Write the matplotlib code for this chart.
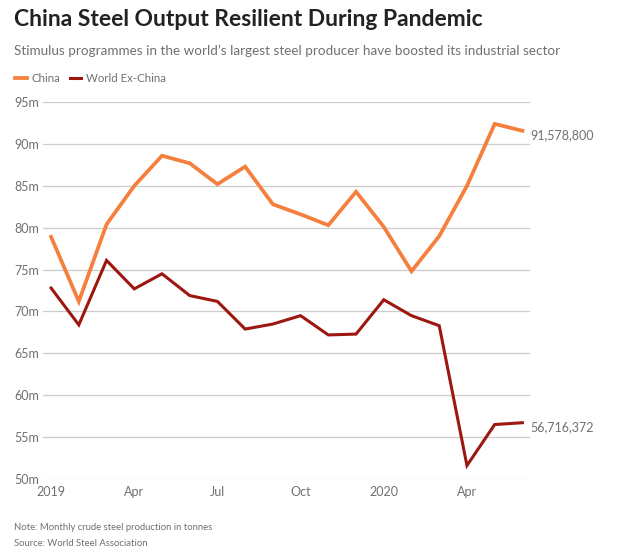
import matplotlib
matplotlib.use("Agg")
import matplotlib.pyplot as plt
import numpy as np

# monthly crude steel output, Jan 2019 - Jun 2020, million tonnes
months = np.arange(18)
china = [78.9, 71.2, 80.4, 85.0, 88.6, 87.7, 85.2, 87.3, 82.8, 81.6, 80.3, 84.3,
         80.1, 74.8, 79.0, 85.0, 92.4, 91.5788]
world_ex_china = [72.8, 68.4, 76.1, 72.7, 74.5, 71.9, 71.2, 67.9, 68.5, 69.5, 67.2, 67.3,
                  71.4, 69.5, 68.3, 51.6, 56.5, 56.716372]
tick_pos = [0, 3, 6, 9, 12, 15]
tick_labels = ["2019", "Apr", "Jul", "Oct", "2020", "Apr"]
y_ticks = [50, 55, 60, 65, 70, 75, 80, 85, 90, 95]
end_labels = ["91,578,800", "56,716,372"]

orange = "#f5803e"
darkred = "#9d1711"
grey = "#707070"

plt.rcParams['font.family'] = ['Lato', 'DejaVu Sans']

fig = plt.figure(figsize=(6.33, 5.55), dpi=100)
ax = fig.add_axes([0.068, 0.137, 0.77, 0.679])

l1, = ax.plot(months, china, color=orange, lw=2.7, solid_joinstyle="miter", label="China")
l2, = ax.plot(months, world_ex_china, color=darkred, lw=2.2, solid_joinstyle="miter",
              label="World Ex-China")

ax.set_xlim(-0.29, 17.29)
ax.set_ylim(50, 95)
ax.set_yticks(y_ticks)
ax.set_yticklabels([f"{v}m" for v in y_ticks])
ax.set_xticks(tick_pos)
ax.set_xticklabels(tick_labels)
ax.grid(axis="y", color="#cccccc", lw=0.9)
ax.set_axisbelow(True)
for s in ax.spines.values():
    s.set_visible(False)
ax.tick_params(length=0, colors=grey, labelsize=9)
ax.tick_params(axis="y", pad=3)
ax.tick_params(axis="x", pad=5)

ax.annotate(end_labels[0], (months[-1], china[-1]), xytext=(6, -3),
            textcoords="offset points", color=grey, fontsize=9, va="center")
ax.annotate(end_labels[1], (months[-1], world_ex_china[-1]), xytext=(6, -3),
            textcoords="offset points", color=grey, fontsize=9, va="center")

fig.text(0.022, 0.965, "China Steel Output Resilient During Pandemic", fontsize=16.5,
         fontweight="bold", color="#222222", va="center")
fig.text(0.022, 0.908, "Stimulus programmes in the world\u2019s largest steel producer have boosted its industrial sector",
         fontsize=9.7, color=grey, va="center")
fig.legend(handles=[l1, l2], loc="center left", bbox_to_anchor=(0.008, 0.859), ncol=2,
           frameon=False, fontsize=8.3, handlelength=1.0, handletextpad=0.4,
           columnspacing=0.8, labelcolor=grey)
fig.text(0.022, 0.05, "Note: Monthly crude steel production in tonnes", fontsize=6.8,
         color=grey, va="center")
fig.text(0.022, 0.021, "Source: World Steel Association", fontsize=6.8, color=grey,
         va="center")

fig.savefig("out.png", dpi=100)
